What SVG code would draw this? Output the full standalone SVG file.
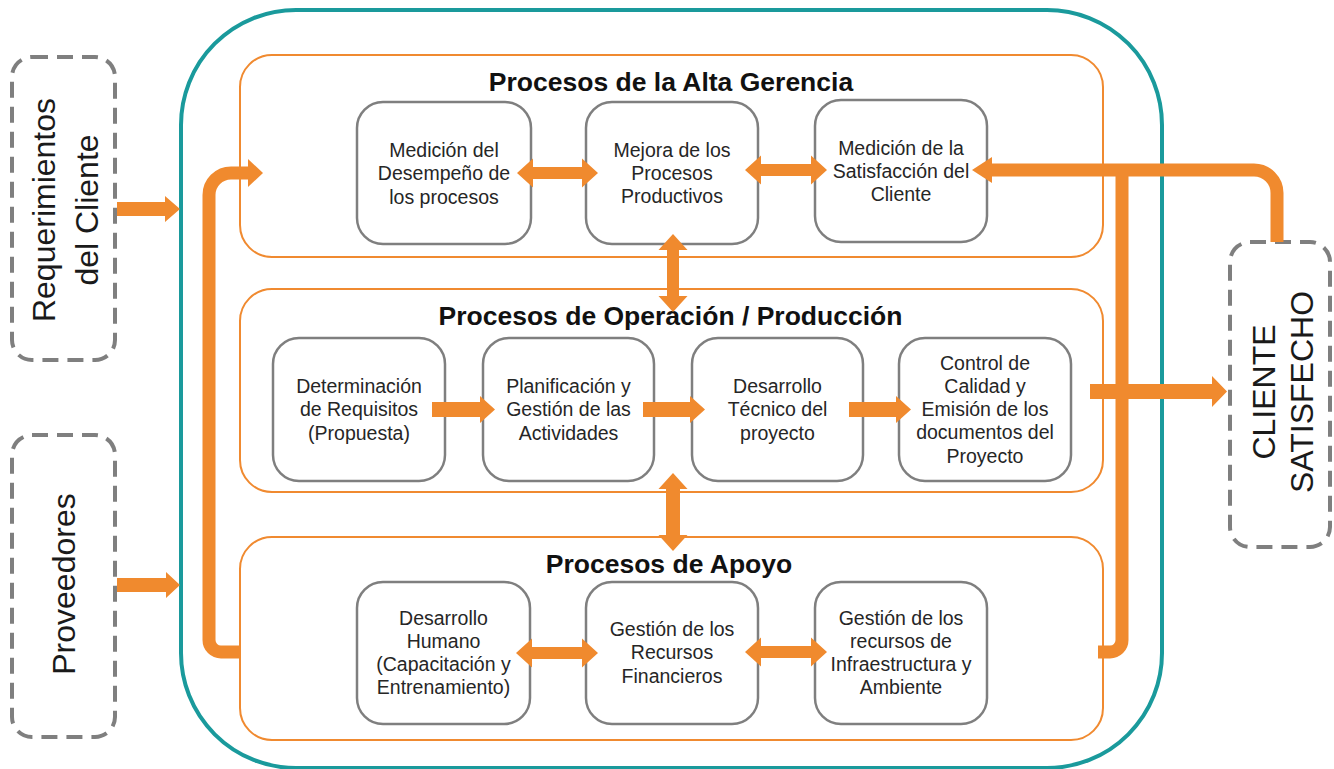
<svg xmlns="http://www.w3.org/2000/svg" width="1334" height="769" viewBox="0 0 1334 769">
<style>
.frame{fill:none;stroke:#1A9A9C;stroke-width:4}
.grp{fill:none;stroke:#F08A30;stroke-width:2}
.node{fill:#fff;stroke:#7f7f7f;stroke-width:2.5}
.dash{fill:none;stroke:#7f7f7f;stroke-width:4;stroke-dasharray:16 9}
.t{font-family:"Liberation Sans",Arial,sans-serif;font-size:19.5px;fill:#262626;text-anchor:middle}
.title{font-family:"Liberation Sans",Arial,sans-serif;font-size:26.5px;font-weight:bold;fill:#111;text-anchor:middle}
.big{font-family:"Liberation Sans",Arial,sans-serif;font-size:32px;fill:#1a1a1a;text-anchor:middle}
.ar{fill:#F08A2E}
.ln{fill:none;stroke:#F08A2E;stroke-width:13}
</style>
<rect fill="#fff" x="0" y="0" width="1334" height="769"/>
<g id="frame"><rect class="frame" x="181" y="10" width="981" height="758" rx="115" ry="115"/></g>

<g id="req"><rect class="dash" x="12" y="57" width="103" height="303" rx="20"/>
<text class="big" transform="translate(55,210) rotate(-90)">Requerimientos</text>
<text class="big" transform="translate(98,210) rotate(-90)">del Cliente</text></g>
<g id="prov"><rect class="dash" x="12" y="435" width="103" height="302" rx="20"/>
<text class="big" transform="translate(75,584) rotate(-90)">Proveedores</text></g>
<g id="cliente"><rect class="dash" x="1230" y="242" width="100" height="305" rx="20"/>
<text class="big" transform="translate(1275,392) rotate(-90)">CLIENTE</text>
<text class="big" transform="translate(1313,392) rotate(-90)">SATISFECHO</text></g>

<g id="alta"><rect class="grp" x="240" y="55" width="863" height="202" rx="32"/>
<text class="title" x="671" y="91">Procesos de la Alta Gerencia</text></g>
<g id="operacion"><rect class="grp" x="240" y="289" width="863" height="203" rx="32"/>
<text class="title" x="670.5" y="325">Procesos de Operación / Producción</text></g>
<g id="apoyo"><rect class="grp" x="240" y="537" width="863" height="203" rx="32"/>
<text class="title" x="669" y="573">Procesos de Apoyo</text></g>

<g id="n-desempeno"><rect class="node" x="357" y="102" width="174" height="142" rx="26"/>
<text class="t" x="444" y="157"><tspan x="444">Medición del</tspan><tspan x="444" dy="23.3">Desempeño de</tspan><tspan x="444" dy="23.3">los procesos</tspan></text></g>
<g id="n-mejora"><rect class="node" x="586" y="102" width="172" height="142" rx="26"/>
<text class="t" x="672" y="156.5"><tspan x="672">Mejora de los</tspan><tspan x="672" dy="23.3">Procesos</tspan><tspan x="672" dy="23.3">Productivos</tspan></text></g>
<g id="n-satisfaccion"><rect class="node" x="815" y="100" width="172" height="142" rx="26"/>
<text class="t" x="901" y="154.5"><tspan x="901">Medición de la</tspan><tspan x="901" dy="23.3">Satisfacción del</tspan><tspan x="901" dy="23.3">Cliente</tspan></text></g>

<g id="n-requisitos"><rect class="node" x="273" y="338" width="172" height="143" rx="26"/>
<text class="t" x="359" y="393"><tspan x="359">Determinación</tspan><tspan x="359" dy="23.3">de Requisitos</tspan><tspan x="359" dy="23.3">(Propuesta)</tspan></text></g>
<g id="n-planificacion"><rect class="node" x="483" y="338" width="171" height="143" rx="26"/>
<text class="t" x="568.5" y="393"><tspan x="568.5">Planificación y</tspan><tspan x="568.5" dy="23.3">Gestión de las</tspan><tspan x="568.5" dy="23.3">Actividades</tspan></text></g>
<g id="n-desarrollo"><rect class="node" x="692" y="338" width="171" height="143" rx="26"/>
<text class="t" x="777.5" y="393"><tspan x="777.5">Desarrollo</tspan><tspan x="777.5" dy="23.3">Técnico del</tspan><tspan x="777.5" dy="23.3">proyecto</tspan></text></g>
<g id="n-control"><rect class="node" x="899" y="338" width="172" height="143" rx="26"/>
<text class="t" x="985" y="369.5"><tspan x="985">Control de</tspan><tspan x="985" dy="23.3">Calidad y</tspan><tspan x="985" dy="23.3">Emisión de los</tspan><tspan x="985" dy="23.3">documentos del</tspan><tspan x="985" dy="23.3">Proyecto</tspan></text></g>

<g id="n-humano"><rect class="node" x="357" y="582" width="173" height="142" rx="26"/>
<text class="t" x="443.5" y="624.5"><tspan x="443.5">Desarrollo</tspan><tspan x="443.5" dy="23.3">Humano</tspan><tspan x="443.5" dy="23.3">(Capacitación y</tspan><tspan x="443.5" dy="23.3">Entrenamiento)</tspan></text></g>
<g id="n-financieros"><rect class="node" x="586" y="582" width="172" height="142" rx="26"/>
<text class="t" x="672" y="636"><tspan x="672">Gestión de los</tspan><tspan x="672" dy="23.3">Recursos</tspan><tspan x="672" dy="23.3">Financieros</tspan></text></g>
<g id="n-infra"><rect class="node" x="815" y="582" width="172" height="142" rx="26"/>
<text class="t" x="901" y="624.5"><tspan x="901">Gestión de los</tspan><tspan x="901" dy="23.3">recursos de</tspan><tspan x="901" dy="23.3">Infraestructura y</tspan><tspan x="901" dy="23.3">Ambiente</tspan></text></g>

<g id="connectors">
<polygon class="ar" points="117,202 165,202 165,196 180,209 165,222 165,216 117,216"/>
<polygon class="ar" points="117,578 166,578 166,572 180,585 166,598 166,592 117,592"/>
<path class="ln" d="M241,652 H221 A12,12 0 0 1 209,640 V195 A22,22 0 0 1 231,173 H249"/>
<polygon class="ar" points="248,159 263,173 248,187"/>
<path class="ln" d="M990,170 H1254 A23,23 0 0 1 1277,193 V242"/>
<polygon class="ar" points="992,157 972,170 992,183"/>
<path class="ln" d="M1122,170 V640 A12,12 0 0 1 1110,652 H1098"/>
<polygon class="ar" points="1090,384 1212,384 1212,376 1227,391.5 1212,407 1212,399 1090,399"/>
<polygon class="ar" points="517,173 533,158.5 533,167 582,167 582,158.5 598,173 582,187.5 582,179 533,179 533,187.5"/>
<polygon class="ar" points="745,170 761,155.5 761,164 811,164 811,155.5 827,170 811,184.5 811,176 761,176 761,184.5"/>
<polygon class="ar" points="516,653 532,638.5 532,647 582,647 582,638.5 598,653 582,667.5 582,659 532,659 532,667.5"/>
<polygon class="ar" points="745,652 761,637.5 761,646 811,646 811,637.5 827,652 811,666.5 811,658 761,658 761,666.5"/>
<polygon class="ar" points="673,234 687.5,250 679,250 679,296 687.5,296 673,312 658.5,296 667,296 667,250 658.5,250"/>
<polygon class="ar" points="673,473 687.5,489 680,489 680,535 687.5,535 673,551 658.5,535 666,535 666,489 658.5,489"/>
<polygon class="ar" points="432,402 480,402 480,396 495,409.5 480,423 480,417 432,417"/>
<polygon class="ar" points="643,402 690,402 690,396 705,409.5 690,423 690,417 643,417"/>
<polygon class="ar" points="849,402 896,402 896,396 911,409.5 896,423 896,417 849,417"/>
</g>
</svg>
